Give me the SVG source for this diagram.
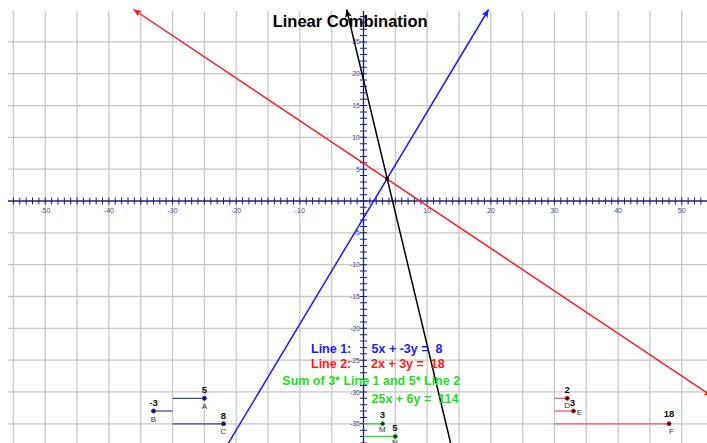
<svg xmlns="http://www.w3.org/2000/svg" width="707" height="443" viewBox="0 0 707 443">
<style>
.grid{stroke:#c8c8c8;stroke-width:1.3;fill:none}
.axis{stroke:#1e1e82;stroke-width:1.3;fill:none}
.tick{stroke:#1e1e82;stroke-width:7;stroke-dasharray:1 5.365;fill:none}
.al{font-family:"Liberation Sans",Arial,sans-serif;font-size:7px;fill:#4a4a9e}
.alx{text-anchor:middle}
.aly{text-anchor:end}
.title{font-family:"Liberation Sans",Arial,sans-serif;font-size:16.5px;font-weight:bold;fill:#000}
.eq{font-family:"Liberation Sans",Arial,sans-serif;font-size:12.5px;font-weight:bold;white-space:pre}
.val{font-family:"Liberation Sans",Arial,sans-serif;font-size:9.5px;font-weight:bold;fill:#111;text-anchor:middle}
.lab{font-family:"Liberation Sans",Arial,sans-serif;font-size:8px;fill:#333;text-anchor:middle}
.sb{stroke:#4646a6;stroke-width:1.3}
.sr{stroke:#ff5a5a;stroke-width:1.3}
.sg{stroke:#33d633;stroke-width:1.3}
.dot{stroke-width:1}
</style>
<defs>
<marker id="arB" markerUnits="userSpaceOnUse" viewBox="-9 -5 10 10" refX="0" refY="0" markerWidth="10" markerHeight="10" orient="auto-start-reverse"><path d="M0,0 L-8,-3.5 L-6,0 L-8,3.5 z" fill="#1a1aff"/></marker>
<marker id="arR" markerUnits="userSpaceOnUse" viewBox="-9 -5 10 10" refX="0" refY="0" markerWidth="10" markerHeight="10" orient="auto-start-reverse"><path d="M0,0 L-8,-3.5 L-6,0 L-8,3.5 z" fill="#ff1a1a"/></marker>
<marker id="arK" markerUnits="userSpaceOnUse" viewBox="-9 -5 10 10" refX="0" refY="0" markerWidth="10" markerHeight="10" orient="auto-start-reverse"><path d="M0,0 L-8,-3.5 L-6,0 L-8,3.5 z" fill="#000"/></marker>
</defs>
<rect width="707" height="443" fill="#fff"/>
<g id="grid" class="grid">
<path d="M13.43,11V443M45.25,11V443M77.08,11V443M108.9,11V443M140.73,11V443M172.55,11V443M204.38,11V443M236.2,11V443M268.03,11V443M299.85,11V443M331.68,11V443M395.33,11V443M427.15,11V443M458.98,11V443M490.8,11V443M522.63,11V443M554.45,11V443M586.28,11V443M618.1,11V443M649.93,11V443M681.75,11V443"/>
<path d="M8,41.88H707M8,73.7H707M8,105.53H707M8,137.35H707M8,169.18H707M8,232.83H707M8,264.65H707M8,296.48H707M8,328.3H707M8,360.13H707M8,391.95H707M8,423.78H707"/>
</g>
<g id="axes">
<line class="axis" x1="8" y1="201" x2="707" y2="201"/>
<line class="axis" x1="363.5" y1="11" x2="363.5" y2="443"/>
<line class="tick" x1="12.93" y1="201" x2="704" y2="201"/>
<line class="tick" x1="363.5" y1="15.92" x2="363.5" y2="443"/>
<g class="al alx">
<text x="45.25" y="213">-50</text><text x="108.9" y="213">-40</text><text x="172.55" y="213">-30</text><text x="236.2" y="213">-20</text><text x="299.85" y="213">-10</text>
<text x="427.15" y="213">10</text><text x="490.8" y="213">20</text><text x="554.45" y="213">30</text><text x="618.1" y="213">40</text><text x="681.75" y="213">50</text>
</g>
<g class="al aly">
<text x="360" y="44.4">25</text><text x="360" y="76.2">20</text><text x="360" y="108">15</text><text x="360" y="139.9">10</text><text x="360" y="171.7">5</text>
<text x="360" y="235.3">-5</text><text x="360" y="267.2">-10</text><text x="360" y="299">-15</text><text x="360" y="330.8">-20</text><text x="360" y="362.6">-25</text><text x="360" y="394.5">-30</text><text x="360" y="426.3">-35</text>
</g>
</g>
<g id="connectors">
<line x1="224.3" y1="450" x2="488.6" y2="9.5" stroke="#1a1aff" stroke-width="1.5" marker-end="url(#arB)"/>
<line x1="133.5" y1="9.5" x2="712" y2="396.2" stroke="#ff1a1a" stroke-width="1.5" marker-start="url(#arR)" marker-end="url(#arR)"/>
<line x1="452.3" y1="450" x2="346.6" y2="9.5" stroke="#000" stroke-width="1.5" marker-end="url(#arK)"/>
</g>
<g id="intersection"><circle cx="387.1" cy="178.6" r="2" fill="#000"/></g>
<g id="title"><text class="title" x="272.7" y="26.5">Linear Combination</text></g>
<g id="equations">
<text class="eq" x="311" y="352.5" fill="#1a1aff">Line 1:</text>
<text class="eq" x="371.5" y="352.5" fill="#1a1aff" xml:space="preserve">5x + -3y =  8</text>
<text class="eq" x="311" y="368.3" fill="#ff1a1a">Line 2:</text>
<text class="eq" x="371" y="368.3" fill="#ff1a1a" xml:space="preserve">2x + 3y =  18</text>
<text class="eq" x="282.3" y="385" fill="#22e022">Sum of 3* Line 1 and 5* Line 2</text>
<text class="eq" x="371.5" y="402.7" fill="#22e022" xml:space="preserve">25x + 6y =  114</text>
</g>
<g id="sliderA"><line class="sb" x1="172.55" y1="398.3" x2="204.4" y2="398.3"/><circle class="dot" cx="204.4" cy="398.3" r="2" fill="#10106a" stroke="#3030a0"/><text class="val" x="204.4" y="393.3">5</text><text class="lab" x="204.4" y="409.3">A</text></g>
<g id="sliderB"><line class="sb" x1="153.5" y1="411" x2="172.55" y2="411"/><circle class="dot" cx="153.5" cy="411" r="2" fill="#10106a" stroke="#3030a0"/><text class="val" x="153.5" y="406">-3</text><text class="lab" x="153.5" y="422">B</text></g>
<g id="sliderC"><line class="sb" x1="172.55" y1="423.78" x2="223.5" y2="423.78"/><circle class="dot" cx="223.5" cy="423.78" r="2" fill="#10106a" stroke="#3030a0"/><text class="val" x="223.5" y="418.5">8</text><text class="lab" x="223.5" y="434">C</text></g>
<g id="sliderD"><line class="sr" x1="554.45" y1="398.3" x2="567.2" y2="398.3"/><circle class="dot" cx="567.2" cy="398.3" r="2" fill="#300" stroke="#e02020"/><text class="val" x="567.2" y="393.3">2</text><text class="lab" x="567.2" y="408">D</text></g>
<g id="sliderE"><line class="sr" x1="554.45" y1="411" x2="573.5" y2="411"/><circle class="dot" cx="573.5" cy="411" r="2" fill="#300" stroke="#e02020"/><text class="val" x="572.5" y="406">3</text><text class="lab" x="579.3" y="415">E</text></g>
<g id="sliderF"><line class="sr" x1="554.45" y1="423.78" x2="669" y2="423.78"/><circle class="dot" cx="669" cy="423.78" r="2" fill="#300" stroke="#e02020"/><text class="val" x="669" y="416.7">18</text><text class="lab" x="671.5" y="433.5">F</text></g>
<g id="sliderM"><line class="sg" x1="363.5" y1="423.78" x2="382.6" y2="423.78"/><circle class="dot" cx="382.6" cy="423.78" r="2" fill="#030" stroke="#22b022"/><text class="val" x="382.3" y="418.3">3</text><text class="lab" x="382.3" y="431.7">M</text></g>
<g id="sliderN"><line class="sg" x1="363.5" y1="436.5" x2="395.3" y2="436.5"/><circle class="dot" cx="395.3" cy="436.5" r="2" fill="#030" stroke="#22b022"/><text class="val" x="395" y="431">5</text><text class="lab" x="395" y="444.5">N</text></g>
</svg>
